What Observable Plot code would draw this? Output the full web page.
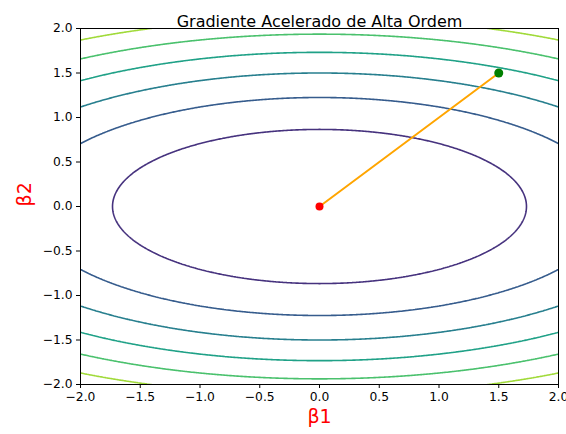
<!DOCTYPE html>
<html>
<head>
<meta charset="utf-8">
<script src="https://cdn.jsdelivr.net/npm/d3@7"></script>
<script src="https://cdn.jsdelivr.net/npm/@observablehq/plot@0.6"></script>
<style>
  html, body { margin: 0; padding: 0; background: #fff; }
  svg { font-family: "DejaVu Sans", sans-serif; }
</style>
</head>
<body>
<div id="chart"></div>
<script>
// Objective: f(b1, b2) = a*b1^2 + b*b2^2
const coefB1 = 1;
const coefB2 = 4;
const contourLevels = [3, 6, 9, 12, 15, 18];
const colorDomain = [0, 21];
const ticks = [-2, -1.5, -1, -0.5, 0, 0.5, 1, 1.5, 2];
const pathB1 = [0, 1.5];
const pathB2 = [0, 1.5];
const startPoint = [{b1: 1.5, b2: 1.5}];
const endPoint = [{b1: 0, b2: 0}];
const title = "Gradiente Acelerado de Alta Ordem";
const xLabel = "β1";
const yLabel = "β2";

const pathData = pathB1.map((v, i) => ({b1: v, b2: pathB2[i]}));
const fmt = d => d.toFixed(1).replace("-", "\u2212");

const chart = Plot.plot({
  width: 566,
  height: 434,
  marginLeft: 80,
  marginRight: 8,
  marginTop: 28,
  marginBottom: 50,
  style: {fontFamily: "DejaVu Sans, sans-serif", fontSize: "12px", color: "#000", background: "#fff"},
  x: {domain: [-2, 2]},
  y: {domain: [-2, 2]},
  color: {type: "linear", scheme: "viridis", domain: colorDomain},
  marks: [
    Plot.contour({
      value: (x, y) => coefB1 * x * x + coefB2 * y * y,
      x1: -2.4, x2: 2.4, y1: -2.4, y2: 2.4,
      thresholds: contourLevels,
      stroke: "value",
      fill: "none",
      strokeWidth: 1.6,
      pixelSize: 1,
      clip: true
    }),
    Plot.line(pathData, {x: "b1", y: "b2", stroke: "orange", strokeWidth: 2}),
    Plot.dot(startPoint, {x: "b1", y: "b2", r: 4.5, fill: "green", stroke: "none"}),
    Plot.dot(endPoint, {x: "b1", y: "b2", r: 4, fill: "red", stroke: "none"}),
    Plot.frame({stroke: "#000", strokeWidth: 1}),
    Plot.axisX({ticks, tickFormat: () => "", tickSize: 4, label: null}),
    Plot.axisY({ticks, tickFormat: () => "", tickSize: 4, label: null}),
    Plot.text(ticks, {x: d => d, text: fmt, frameAnchor: "bottom", dy: 16, fontSize: 12.3, fill: "#000"}),
    Plot.text(ticks, {y: d => d, text: fmt, frameAnchor: "left", dx: -8, textAnchor: "end", fontSize: 12.3, fill: "#000"}),
    Plot.text([title], {frameAnchor: "top", dy: -13, fontSize: 16, fill: "#000"}),
    Plot.text([xLabel], {frameAnchor: "bottom", dy: 38, fontSize: 19, fill: "red"}),
    Plot.text([yLabel], {frameAnchor: "left", dx: -56, rotate: -90, fontSize: 19, fill: "red"})
  ]
});
document.getElementById("chart").appendChild(chart);
</script>
</body>
</html>
